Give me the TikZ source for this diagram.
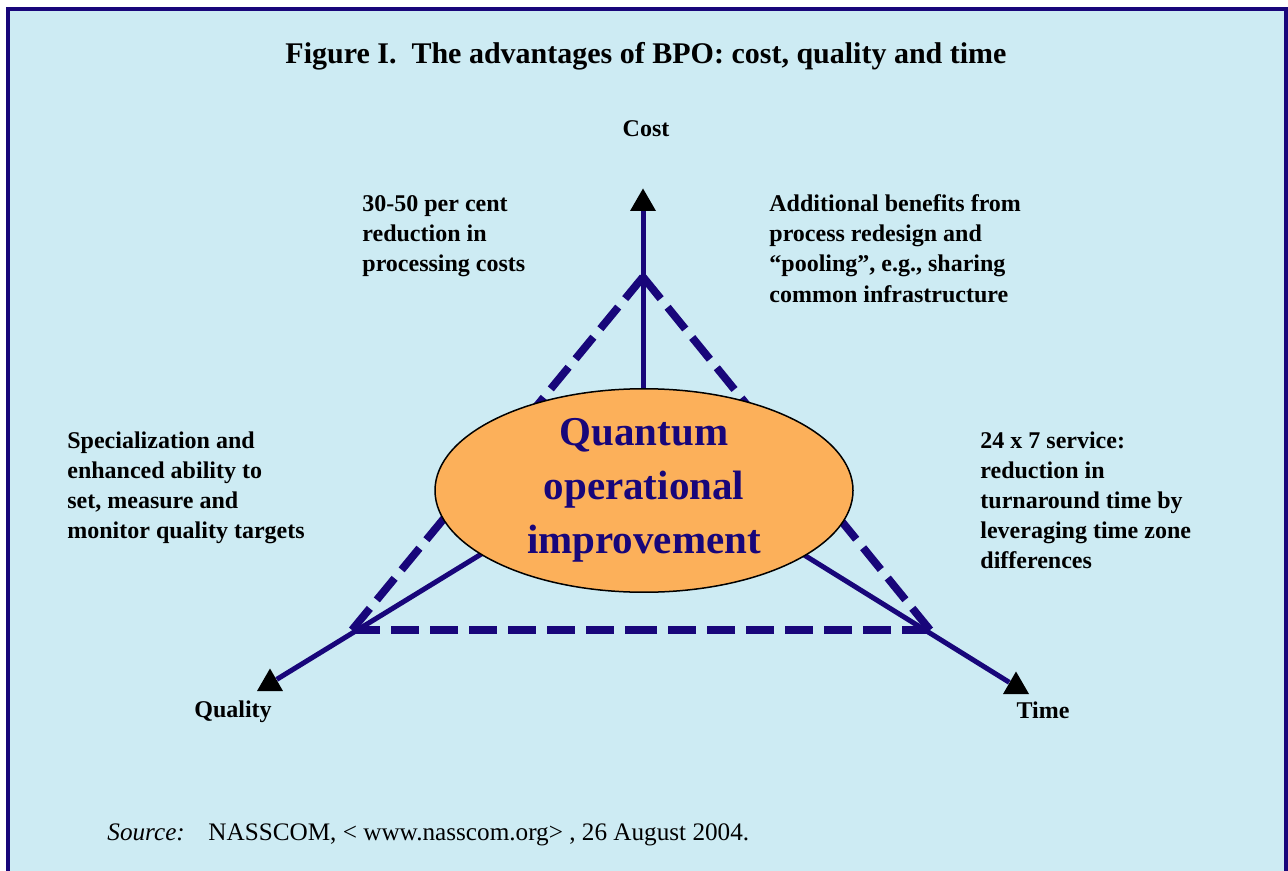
\documentclass[tikz,border=0pt]{standalone}
\usepackage{fontspec}
\setmainfont{Liberation Serif}
\usetikzlibrary{shapes.geometric,calc}
\definecolor{navy}{RGB}{24,6,122}
\definecolor{paleblue}{RGB}{205,235,243}
\definecolor{peach}{RGB}{252,176,90}

\begin{document}
\begin{tikzpicture}[x=0.5pt,y=-0.5pt,
  note/.style={font=\bfseries\fontsize{12}{15}\selectfont,align=left,anchor=base west,inner sep=0pt},
  axis/.style={draw=navy,line width=2.5pt},
  dashline/.style={draw=navy,line width=3.9pt,dash pattern=on 14pt off 5.5pt},
  tip/.style={regular polygon,regular polygon sides=3,fill=black,minimum size=15pt,inner sep=0pt},
  core/.style={ellipse,draw=black,line width=0.75pt,fill=peach,minimum width=209pt,minimum height=96.5pt,
    inner sep=0pt,text=navy,align=center,font=\bfseries\fontsize{20.5}{27}\selectfont}]
    \useasboundingbox (0,0) rectangle (1288,871);
    \fill[white] (0,0) rectangle (1288,871);
    \clip (0,0) rectangle (1288,871);
    % Frame
    \draw[navy,line width=2pt,fill=paleblue] (8,9.5) rectangle (1286,900);
    % Corners of the triangle
    \coordinate (apex) at (643,277);
    \coordinate (lc) at (352,630);
    \coordinate (rc) at (930,630);
    \coordinate (meet) at (643,455);
    \foreach \a/\b in {apex/lc,lc/apex,apex/rc,rc/apex,lc/rc,rc/lc}
      \draw[dashline] (\a) -- ($(\a)!.5!(\b)$);
    % Axes
    \node[tip] (costtip) at (643,203.5) {};
    \node[tip] (qualtip) at (270,683.5) {};
    \node[tip] (timetip) at (1016,686.5) {};
    \draw[axis] (meet) -- (costtip);
    \draw[axis] (meet) -- (qualtip);
    \draw[axis] (meet) -- (timetip);
    \node[core] (quantum) at (644,490.5) {Quantum\\operational\\improvement};
    % Labels (multi-line notes sit on their last baseline)
    \node[font=\bfseries\fontsize{15}{18}\selectfont,anchor=base,inner sep=0pt] (title) at (646,64)
      {Figure I.\ \ The advantages of BPO: cost, quality and time};
    \node[note,anchor=base] (costlbl) at (646,137) {Cost};
    \node[note,anchor=base] (quallbl) at (233,717) {Quality};
    \node[note,anchor=base] (timelbl) at (1043,718) {Time};
    \node[note] (costnote) at (362,272) {30-50 per cent\\reduction in\\processing costs};
    \node[note] (poolnote) at (769,302) {Additional benefits from\\process redesign and\\“pooling”, e.g., sharing\\common infrastructure};
    \node[note] (qualnote) at (67,538) {Specialization and\\enhanced ability to\\set, measure and\\monitor quality targets};
    \node[note] (timenote) at (980,568) {24 x 7 service:\\reduction in\\turnaround time by\\leveraging time zone\\differences};
    % Source
    \node[anchor=base west,inner sep=0pt,font=\fontsize{12.6}{14}\selectfont] (srclbl) at (107,840) {\textit{Source:}};
    \node[anchor=base west,inner sep=0pt,font=\fontsize{12.6}{14}\selectfont] (srctext) at (208,840)
      {NASSCOM, < www.nasscom.org> , 26 August 2004.};
\end{tikzpicture}
\end{document}
